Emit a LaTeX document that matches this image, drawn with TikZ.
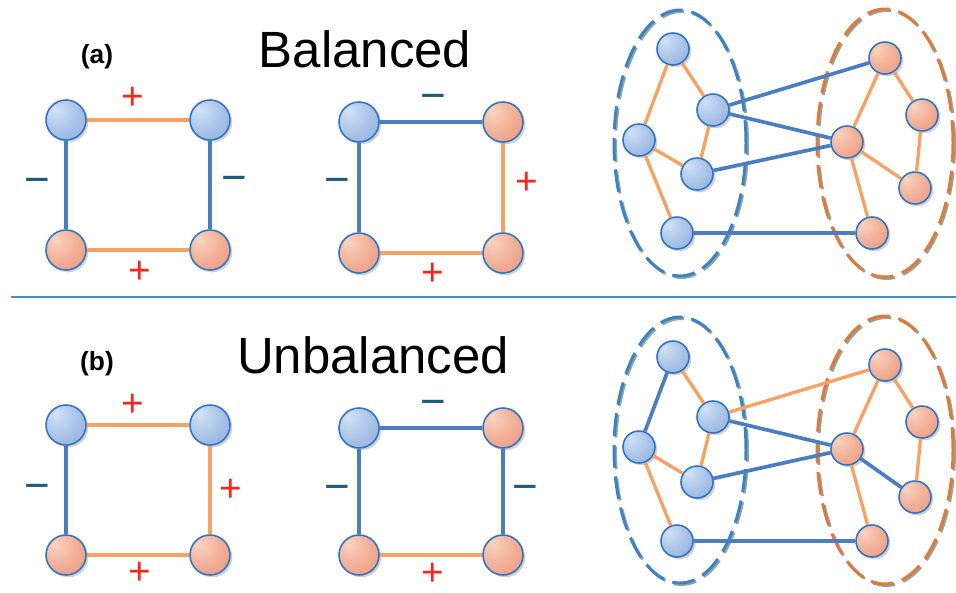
\documentclass[tikz,border=0pt]{standalone}
\usepackage{fontspec}
\setmainfont{Liberation Sans}
\usetikzlibrary{shadows}
\definecolor{nblue}{HTML}{2E75C5}
\definecolor{eblue}{HTML}{4A7EC0}
\definecolor{eorange}{HTML}{F7A262}
\definecolor{bluein}{HTML}{D2E2F6}
\definecolor{blueout}{HTML}{7FA3D9}
\definecolor{orin}{HTML}{FAD3C0}
\definecolor{orout}{HTML}{E9896B}
\definecolor{pluscol}{HTML}{EE2A1E}
\definecolor{minuscol}{HTML}{1D5B7A}
\definecolor{sepcol}{HTML}{4A8ACB}
\definecolor{ringgray}{HTML}{8FA89A}
\definecolor{ellblue}{HTML}{3C82C8}
\definecolor{ellorange}{HTML}{E07A3C}
\pgfdeclareradialshading{bshade}{\pgfpoint{-14bp}{14bp}}{color(0bp)=(bluein); color(20bp)=(bluein!60!blueout); color(55bp)=(blueout); color(100bp)=(blueout)}
\pgfdeclareradialshading{oshade}{\pgfpoint{-14bp}{14bp}}{color(0bp)=(orin); color(20bp)=(orin!60!orout); color(55bp)=(orout); color(100bp)=(orout)}
\tikzset{
  ballnode/.style={circle, draw=nblue, line width=0.9pt, inner sep=0pt,
    drop shadow={shadow xshift=1.3pt, shadow yshift=-1.3pt, opacity=0.3, fill=black!60}},
  sqb/.style={ballnode, minimum size=0.8cm, shading=bshade},
  sqo/.style={ballnode, minimum size=0.8cm, shading=oshade},
  nwb/.style={ballnode, minimum size=0.64cm, shading=bshade},
  nwo/.style={ballnode, minimum size=0.64cm, shading=oshade},
  sqposedge/.style={draw=eorange, line width=2.3pt},
  sqnegedge/.style={draw=eblue, line width=2.3pt},
  posedge/.style={draw=eorange, line width=1.9pt},
  negedge/.style={draw=eblue, line width=2.1pt},
  pluslbl/.style={text=pluscol, font=\fontsize{22}{22}\selectfont, inner sep=0pt},
  minuslbl/.style={text=minuscol, font=\fontsize{25}{25}\selectfont, inner sep=0pt},
  titletext/.style={font=\fontsize{29}{29}\selectfont, anchor=base, inner sep=0pt},
  tagtext/.style={font=\fontsize{15}{15}\selectfont\bfseries, anchor=base, inner sep=0pt},
  ellbase/.style={line width=1.7pt, dash pattern=on 13pt off 5pt},
}
\begin{document}
\begin{tikzpicture}[x=0.02cm,y=-0.02cm]
\useasboundingbox (0,0) rectangle (956,592);

% titles
\node[tagtext] (ta) at (97,63) {(a)};
\node[titletext] (tbal) at (365,67) {Balanced};
\node[tagtext] (tb) at (97,370) {(b)};
\node[titletext] (tunb) at (373,373) {Unbalanced};

% separator
\coordinate (sl) at (11,297);
\coordinate (sr) at (956,297);
\draw[sepcol, line width=1.5pt] (sl) -- (sr);

% ---------- square 1 (balanced) ----------
\node[sqb] (a1) at (66,120) {};
\node[sqb] (a2) at (210,120) {};
\node[sqo] (a3) at (66,250) {};
\node[sqo] (a4) at (210,250) {};
\draw[sqposedge] (a1) -- (a2);
\draw[sqnegedge] (a1) -- (a3);
\draw[sqnegedge] (a2) -- (a4);
\draw[sqposedge] (a3) -- (a4);
\node[pluslbl] (a1p) at (133,98) {+};
\node[minuslbl] (a1m) at (37,186) {−};
\node[minuslbl] (a2m) at (234,184) {−};
\node[pluslbl] (a3p) at (140,272) {+};

% ---------- square 2 (balanced) ----------
\node[sqb] (b1) at (359,122) {};
\node[sqo] (b2) at (503,122) {};
\node[sqo] (b3) at (359,253) {};
\node[sqo] (b4) at (503,253) {};
\draw[sqnegedge] (b1) -- (b2);
\draw[sqnegedge] (b1) -- (b3);
\draw[sqposedge] (b2) -- (b4);
\draw[sqposedge] (b3) -- (b4);
\node[minuslbl] (b1m) at (433,102) {−};
\node[minuslbl] (b2m) at (337,186) {−};
\node[pluslbl] (b3p) at (527,183) {+};
\node[pluslbl] (b4p) at (433,274) {+};

% ---------- square 3 (unbalanced) ----------
\node[sqb] (c1) at (66,425) {};
\node[sqb] (c2) at (210,425) {};
\node[sqo] (c3) at (66,555) {};
\node[sqo] (c4) at (210,555) {};
\draw[sqposedge] (c1) -- (c2);
\draw[sqnegedge] (c1) -- (c3);
\draw[sqposedge] (c2) -- (c4);
\draw[sqposedge] (c3) -- (c4);
\node[pluslbl] (c1p) at (133,405) {+};
\node[minuslbl] (c2m) at (37,492) {−};
\node[pluslbl] (c3p) at (231,490) {+};
\node[pluslbl] (c4p) at (140,573) {+};

% ---------- square 4 (unbalanced) ----------
\node[sqb] (d1) at (359,428) {};
\node[sqo] (d2) at (503,428) {};
\node[sqo] (d3) at (359,555) {};
\node[sqo] (d4) at (503,555) {};
\draw[sqnegedge] (d1) -- (d2);
\draw[sqnegedge] (d1) -- (d3);
\draw[sqnegedge] (d2) -- (d4);
\draw[sqposedge] (d3) -- (d4);
\node[minuslbl] (d1m) at (433,408) {−};
\node[minuslbl] (d2m) at (337,493) {−};
\node[minuslbl] (d3m) at (525,493) {−};
\node[pluslbl] (d4p) at (433,574) {+};

% ---------- network ellipses ----------
\foreach \cy in {143,450} {
  \draw[ellbase, ringgray] (681.5,\cy+1.5) ellipse [x radius=1.32cm, y radius=2.66cm];
  \draw[ellbase, ellblue] (680,\cy) ellipse [x radius=1.32cm, y radius=2.66cm];
  \draw[ellbase, ringgray] (886.5,\cy+1.5) ellipse [x radius=1.36cm, y radius=2.68cm];
  \draw[ellbase, ellorange] (885,\cy) ellipse [x radius=1.36cm, y radius=2.68cm];
}

% ---------- network top (balanced) ----------
\node[nwb] (tb1) at (673,49) {};
\node[nwb] (tb2) at (713,110) {};
\node[nwb] (tb3) at (639,140) {};
\node[nwb] (tb4) at (697,174) {};
\node[nwb] (tb5) at (677,233) {};
\node[nwo] (to1) at (885,58) {};
\node[nwo] (to2) at (922,115) {};
\node[nwo] (to3) at (847,142) {};
\node[nwo] (to4) at (915,188) {};
\node[nwo] (to5) at (872,233) {};
\draw[posedge] (tb1) -- (tb2);
\draw[posedge] (tb1) -- (tb3);
\draw[posedge] (tb3) -- (tb4);
\draw[posedge] (tb2) -- (tb4);
\draw[posedge] (tb3) -- (tb5);
\draw[posedge] (to1) -- (to2);
\draw[posedge] (to1) -- (to3);
\draw[posedge] (to2) -- (to4);
\draw[posedge] (to3) -- (to4);
\draw[posedge] (to3) -- (to5);
\draw[negedge] (tb2) -- (to1);
\draw[negedge] (tb2) -- (to3);
\draw[negedge] (tb4) -- (to3);
\draw[negedge] (tb5) -- (to5);

% ---------- network bottom (unbalanced) ----------
\node[nwb] (bb1) at (673,357) {};
\node[nwb] (bb2) at (713,417) {};
\node[nwb] (bb3) at (639,447) {};
\node[nwb] (bb4) at (697,482) {};
\node[nwb] (bb5) at (677,541) {};
\node[nwo] (bo1) at (885,365) {};
\node[nwo] (bo2) at (922,422) {};
\node[nwo] (bo3) at (847,449) {};
\node[nwo] (bo4) at (915,497) {};
\node[nwo] (bo5) at (872,541) {};
\draw[negedge] (bb1) -- (bb3);
\draw[posedge] (bb1) -- (bb2);
\draw[posedge] (bb3) -- (bb4);
\draw[posedge] (bb2) -- (bb4);
\draw[posedge] (bb3) -- (bb5);
\draw[posedge] (bo1) -- (bo2);
\draw[posedge] (bo1) -- (bo3);
\draw[posedge] (bo2) -- (bo4);
\draw[negedge] (bo3) -- (bo4);
\draw[posedge] (bo3) -- (bo5);
\draw[posedge] (bb2) -- (bo1);
\draw[negedge] (bb2) -- (bo3);
\draw[negedge] (bb4) -- (bo3);
\draw[negedge] (bb5) -- (bo5);
\end{tikzpicture}
\end{document}
